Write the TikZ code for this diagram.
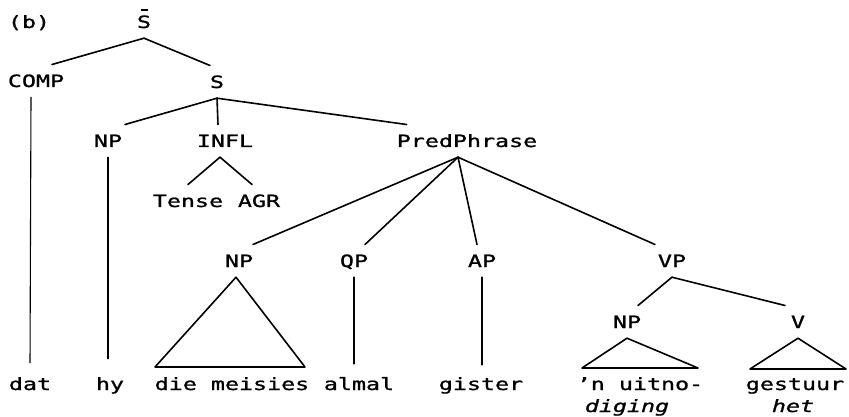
\documentclass[tikz,border=0pt]{standalone}
\usepackage{fontspec}
\setmonofont[FakeStretch=1.38, FakeBold=1.2]{DejaVu Sans Mono}
\begin{document}
\begin{tikzpicture}[x=1pt,y=-1pt,
  lab/.style={font=\ttfamily\fontsize{16.9}{20}\selectfont, anchor=base,
              inner xsep=0pt, inner ysep=10pt, text height=12.3pt, text depth=0pt},
  word/.style={lab, text height=13pt},
  edge/.style={line width=1.6pt, line cap=round, line join=round},
  thinedge/.style={line width=1.1pt, line cap=round}]
\useasboundingbox (0,0) rectangle (849,417);

% labels
\node[lab] (b) at (29,28) {(b)};
\node[lab] (sb) at (144,28) {S};
\node[lab] (comp) at (36,87) {COMP};
\node[lab] (s) at (217,88) {S};
\node[lab] (np1) at (108,147) {NP};
\node[lab] (infl) at (225,147) {INFL};
\node[lab] (pp) at (467,147) {PredPhrase};
\node[lab] (tense) at (188,207) {Tense};
\node[lab] (agr) at (259,207) {AGR};
\node[lab] (np2) at (239,267) {NP};
\node[lab] (qp) at (354,267) {QP};
\node[lab] (ap) at (482,267) {AP};
\node[lab] (vp) at (672,267) {VP};
\node[lab] (np3) at (627,328) {NP};
\node[lab] (v) at (798,328) {V};

% terminal words
\node[word] (dat) at (30,390) {dat};
\node[word] (hy) at (110,390) {hy};
\node[word] (dm) at (232,390) {die meisies};
\node[word] (almal) at (359,390) {almal};
\node[word] (gister) at (481,390) {gister};
\node[word] (uitno) at (640,390) {’n uitno-};
\node[word] (gestuur) at (795,390) {gestuur};
\node[word] (diging) at (627,412) {\itshape diging};
\node[word] (het) at (793,412) {\itshape het};

% bar over the top S
\draw[line width=1.4pt] ([xshift=-3.5pt,yshift=18pt]sb.base) -- ([xshift=3.5pt,yshift=18pt]sb.base);

% branches
\draw[edge] (sb.south) -- ([xshift=16pt]comp.north);
\draw[edge] (sb.south) -- ([xshift=-7pt]s.north);
\draw[edge] (s.south) -- ([xshift=17pt]np1.north);
\draw[edge] (s.south) -- ([xshift=-7pt]infl.north);
\draw[edge] (s.south) -- ([xshift=10pt]pp.north west);
\draw[thinedge, shorten >=4pt] ([xshift=-5pt]comp.south) -- (dat.north);
\draw[thinedge, shorten >=8pt] (np1.south) -- (np1.south |- hy.north);
\draw[edge] ([xshift=-5pt]infl.south) -- (tense.north);
\draw[edge] ([xshift=-5pt]infl.south) -- ([xshift=-7pt]agr.north);
\draw[edge] ([xshift=-9pt]pp.south) -- ([xshift=14pt]np2.north);
\draw[edge] ([xshift=-9pt]pp.south) -- ([xshift=11pt]qp.north);
\draw[edge] ([xshift=-9pt]pp.south) -- ([xshift=-5pt]ap.north);
\draw[edge] ([xshift=-9pt]pp.south) -- ([xshift=-17pt]vp.north);
\draw[edge, shorten >=3pt] (qp.south) -- (qp.south |- almal.north);
\draw[edge, shorten >=2pt] (ap.south) -- (ap.south |- gister.north);
\draw[edge] (vp.south) -- ([xshift=11pt]np3.north);
\draw[edge] (vp.south) -- ([xshift=-13pt]v.north);

% triangles over the word groups
\coordinate (dmL) at (155,367);
\coordinate (dmR) at (305,367);
\draw[edge] (dmL) -- ([xshift=-3pt]np2.south) -- (dmR) -- cycle;
\coordinate (uiL) at (582,368);
\coordinate (uiR) at (698,368);
\draw[edge] (uiL) -- (np3.south) -- (uiR) -- cycle;
\coordinate (geL) at (750,369);
\coordinate (geR) at (846,369);
\draw[edge] (geL) -- (v.south) -- (geR) -- cycle;
\end{tikzpicture}
\end{document}
